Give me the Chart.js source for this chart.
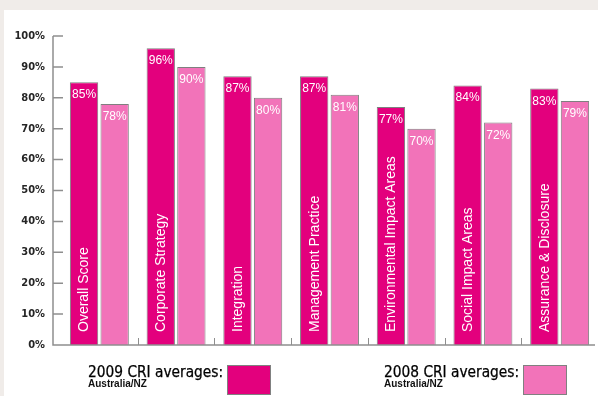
<!DOCTYPE html>
<html><head><meta charset="utf-8">
<script src="https://cdn.jsdelivr.net/npm/chart.js@4.4.1/dist/chart.umd.min.js"></script>
<style>
html,body{margin:0;padding:0;width:598px;height:396px;overflow:hidden;background:#F0ECE9;}
#panel{position:absolute;left:4px;top:10px;width:594px;height:386px;background:#ffffff;}
#wrap{position:absolute;left:0;top:0;width:598px;height:396px;}
.t1{position:absolute;font-family:'DejaVu Sans Condensed','DejaVu Sans',sans-serif;font-size:15.3px;line-height:15.3px;color:#000;white-space:nowrap;-webkit-text-stroke:0.25px #000;}
.t2{position:absolute;font-family:'Liberation Sans',Arial,sans-serif;font-weight:bold;font-size:10px;line-height:10px;color:#111;white-space:nowrap;}
.sw{position:absolute;box-sizing:border-box;border:1px solid #808080;width:44px;height:30px;}
</style></head>
<body>
<div id="panel"></div>
<div id="wrap"><canvas id="c" width="598" height="396"></canvas></div>
<div id="legend"></div>
<script>
const categories = ['Overall Score','Corporate Strategy','Integration','Management Practice','Environmental Impact Areas','Social Impact Areas','Assurance & Disclosure'];
const values2009 = [85, 96, 87, 87, 77, 84, 83];
const values2008 = [78, 90, 80, 81, 70, 72, 79];
const yTicks = [0, 10, 20, 30, 40, 50, 60, 70, 80, 90, 100];
const seriesNames = ['2009 CRI averages:', '2008 CRI averages:'];
const seriesRegion = ['Australia/NZ', 'Australia/NZ'];
const seriesColors = ['#E3007D', '#F273B9'];

const AXIS_GAP = 8;
const axisPlugin = {
  id: 'axisPlugin',
  afterDatasetsDraw(chart) {
    const ctx = chart.ctx;
    const y = chart.scales.y, x = chart.scales.x;
    const ca = chart.chartArea;
    const ax = ca.left - AXIS_GAP;
    ctx.save();
    ctx.strokeStyle = '#8e8e8e';
    ctx.lineWidth = 1.5;
    ctx.beginPath();
    ctx.moveTo(ax, y.getPixelForValue(yTicks[yTicks.length - 1]));
    ctx.lineTo(ax, y.getPixelForValue(0));
    ctx.lineTo(ca.right - 3, y.getPixelForValue(0));
    yTicks.forEach(v => {
      if (v === 0) return;
      const py = y.getPixelForValue(v);
      ctx.moveTo(ax, py);
      ctx.lineTo(ax + 10, py);
    });
    ctx.stroke();
    ctx.lineWidth = 1;
    ctx.beginPath();
    for (let i = 0; i < categories.length - 1; i++) {
      const px = Math.round((x.getPixelForValue(i) + x.getPixelForValue(i + 1)) / 2) + 0.5;
      ctx.moveTo(px, y.getPixelForValue(0));
      ctx.lineTo(px, y.getPixelForValue(0) - 7);
    }
    ctx.stroke();
    ctx.restore();
  }
};

const labelPlugin = {
  id: 'labelPlugin',
  afterDatasetsDraw(chart) {
    const ctx = chart.ctx;
    const y = chart.scales.y;
    ctx.save();
    ctx.fillStyle = '#ffffff';
    ctx.font = '12px "Liberation Sans", Arial, sans-serif';
    ctx.textAlign = 'center';
    ctx.textBaseline = 'alphabetic';
    chart.data.datasets.forEach((ds, di) => {
      chart.getDatasetMeta(di).data.forEach((bar, i) => {
        ctx.fillText(ds.data[i] + '%', bar.x, bar.y + 16);
      });
    });
    ctx.font = '14px "Liberation Sans", Arial, sans-serif';
    ctx.textAlign = 'left';
    ctx.textBaseline = 'middle';
    chart.getDatasetMeta(0).data.forEach((bar, i) => {
      ctx.save();
      ctx.translate(bar.x + 0.5, y.getPixelForValue(0) - 13);
      ctx.rotate(-Math.PI / 2);
      ctx.fillText(categories[i], 0, 0);
      ctx.restore();
    });
    ctx.restore();
  }
};

const chart = new Chart(document.getElementById('c'), {
  type: 'bar',
  data: {
    labels: categories,
    datasets: [
      { label: seriesNames[0] + ' ' + seriesRegion[0], data: values2009, backgroundColor: seriesColors[0], borderColor: '#7f7f7f', borderWidth: 1 },
      { label: seriesNames[1] + ' ' + seriesRegion[1], data: values2008, backgroundColor: seriesColors[1], borderColor: '#7f7f7f', borderWidth: 1 }
    ]
  },
  options: {
    responsive: false,
    devicePixelRatio: 1,
    animation: false,
    categoryPercentage: 0.798,
    barPercentage: 0.925,
    layout: { padding: { top: 36, bottom: 51, right: 0, left: 0 } },
    plugins: { legend: { display: false }, tooltip: { enabled: false } },
    scales: {
      x: { display: false, grid: { display: false } },
      y: {
        min: 0, max: 100,
        afterFit: s => { s.width = 61; },
        afterBuildTicks: s => { s.ticks = yTicks.map(v => ({ value: v })); },
        grid: { display: false, drawTicks: false },
        border: { display: false },
        ticks: {
          padding: 16,
          color: '#262626',
          font: { family: "'DejaVu Sans Condensed', 'DejaVu Sans', sans-serif", size: 11, weight: 'bold' },
          callback: v => v + '%'
        }
      }
    }
  },
  plugins: [axisPlugin, labelPlugin]
});

const legendPos = [{ text: 88, sw: 227 }, { text: 384, sw: 523 }];
const lg = document.getElementById('legend');
seriesNames.forEach((name, i) => {
  const a = document.createElement('div'); a.className = 't1';
  a.style.left = legendPos[i].text + 'px'; a.style.top = '364.8px'; a.textContent = name;
  const b = document.createElement('div'); b.className = 't2';
  b.style.left = legendPos[i].text + 'px'; b.style.top = '379px'; b.textContent = seriesRegion[i];
  const s = document.createElement('div'); s.className = 'sw';
  s.style.left = legendPos[i].sw + 'px'; s.style.top = '365px'; s.style.background = seriesColors[i];
  lg.appendChild(a); lg.appendChild(b); lg.appendChild(s);
});
</script>
</body></html>
